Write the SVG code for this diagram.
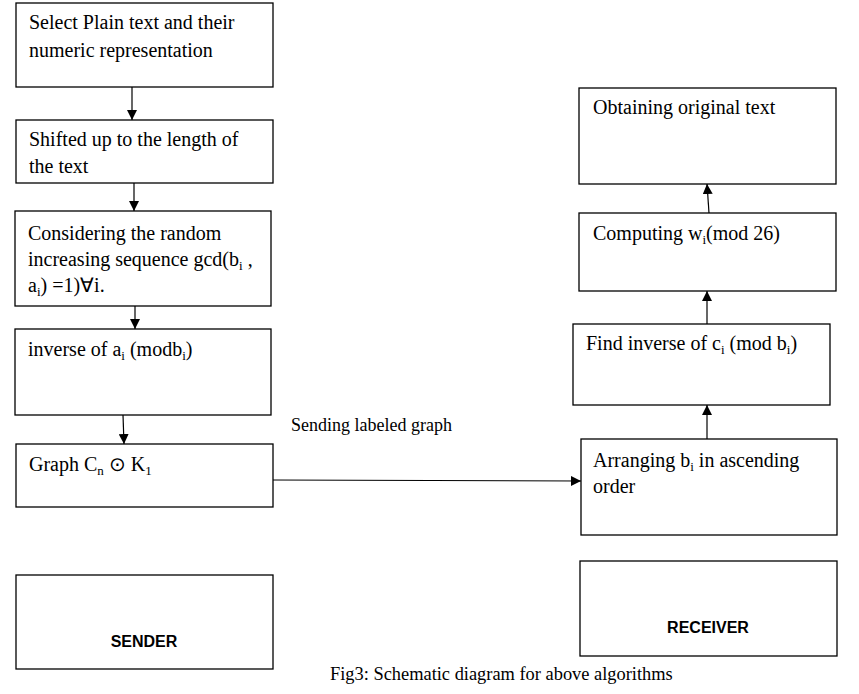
<svg xmlns="http://www.w3.org/2000/svg" width="859" height="694" viewBox="0 0 859 694">
<style>
rect{fill:#fff;stroke:#000;stroke-width:1.3}
.t{font-family:"Liberation Serif","Times New Roman",serif;font-size:20px;fill:#000}
.s{font-size:13px}
.lbl{font-family:"Liberation Serif","Times New Roman",serif;font-size:18px;fill:#000}
.b{font-family:"Liberation Sans",Arial,sans-serif;font-size:16px;font-weight:bold;fill:#000}
.c line{stroke:#000;stroke-width:1.2}
</style>
<defs>
<marker id="ah" viewBox="0 0 10 10" refX="10" refY="5" markerWidth="10" markerHeight="10" markerUnits="userSpaceOnUse" orient="auto">
<path d="M0,0 L10,5 L0,10 Z" fill="#000"/>
</marker>
</defs>
<rect width="859" height="694" style="fill:#fff;stroke:none"/>
<g id="n1"><rect x="16" y="3" width="257" height="84"/>
<text class="t" x="29" y="29">Select Plain text and their</text>
<text class="t" x="29" y="57">numeric representation</text></g>
<g id="n2"><rect x="16" y="120" width="257" height="63"/>
<text class="t" x="29" y="146">Shifted up to the length of</text>
<text class="t" x="29" y="173">the text</text></g>
<g id="n3"><rect x="15" y="211" width="256" height="95"/>
<text class="t" x="28" y="240">Considering the random</text>
<text class="t" x="28" y="266">increasing sequence gcd(b<tspan class="s" dy="4">i</tspan><tspan dy="-4"> ,</tspan></text>
<text class="t" x="28" y="292">a<tspan class="s" dy="4">i</tspan><tspan dy="-4">) =1)∀i.</tspan></text></g>
<g id="n4"><rect x="15" y="329" width="256" height="86"/>
<text class="t" x="28" y="356">inverse of a<tspan class="s" dy="4">i</tspan><tspan dy="-4"> (modb</tspan><tspan class="s" dy="4">i</tspan><tspan dy="-4">)</tspan></text></g>
<g id="n5"><rect x="16" y="444" width="257" height="63"/>
<text class="t" x="29" y="471">Graph C<tspan class="s" dy="4">n</tspan><tspan dy="-4"> ⊙ K</tspan><tspan class="s" dy="4">1</tspan></text></g>
<g id="sender"><rect x="16" y="575" width="257" height="94"/>
<text class="b" x="144" y="647" text-anchor="middle">SENDER</text></g>
<g id="r1"><rect x="579" y="88" width="257" height="96"/>
<text class="t" x="593" y="114">Obtaining original text</text></g>
<g id="r2"><rect x="579" y="213" width="257" height="78"/>
<text class="t" x="593" y="240">Computing w<tspan class="s" dy="4">i</tspan><tspan dy="-4">(mod 26)</tspan></text></g>
<g id="r3"><rect x="573" y="324" width="257" height="81"/>
<text class="t" x="586" y="350">Find inverse of c<tspan class="s" dy="4">i</tspan><tspan dy="-4"> (mod b</tspan><tspan class="s" dy="4">i</tspan><tspan dy="-4">)</tspan></text></g>
<g id="r4"><rect x="581" y="439" width="256" height="96"/>
<text class="t" x="593" y="467">Arranging b<tspan class="s" dy="4">i</tspan><tspan dy="-4"> in ascending</tspan></text>
<text class="t" x="593" y="493">order</text></g>
<g id="receiver"><rect x="580" y="561" width="257" height="95"/>
<text class="b" x="708" y="633" text-anchor="middle">RECEIVER</text></g>
<g class="c" id="connectors">
<line x1="132" y1="87" x2="132" y2="120" marker-end="url(#ah)"/>
<line x1="134" y1="183" x2="134" y2="211" marker-end="url(#ah)"/>
<line x1="135" y1="306" x2="135" y2="329" marker-end="url(#ah)"/>
<line x1="123" y1="415" x2="124" y2="444" marker-end="url(#ah)"/>
<line x1="273" y1="480" x2="581" y2="481" marker-end="url(#ah)"/>
<line x1="707" y1="439" x2="707" y2="405" marker-end="url(#ah)"/>
<line x1="707" y1="324" x2="707" y2="291" marker-end="url(#ah)"/>
<line x1="709" y1="213" x2="707" y2="184" marker-end="url(#ah)"/>
</g>
<text class="lbl" x="291" y="431">Sending labeled graph</text>
<text class="lbl" x="330" y="680" style="font-size:18.4px">Fig3: Schematic diagram for above algorithms</text>
</svg>
